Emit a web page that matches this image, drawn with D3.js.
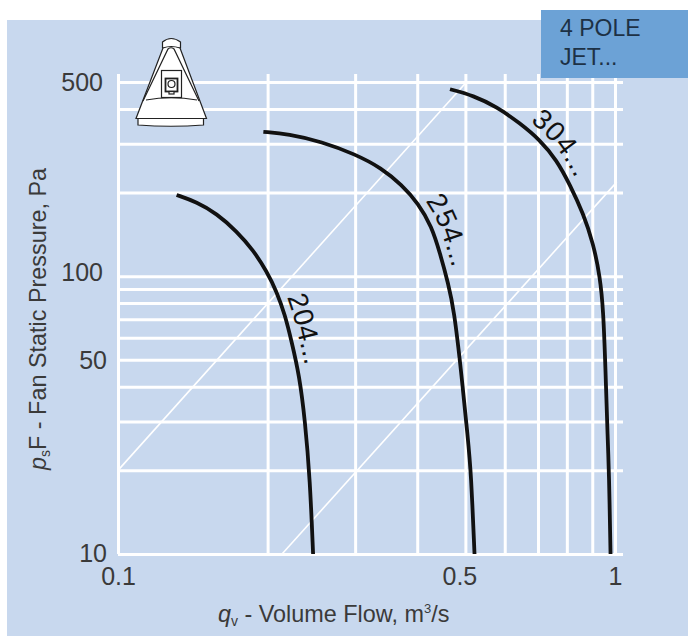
<!DOCTYPE html>
<html>
<head>
<meta charset="utf-8">
<script src="https://cdn.jsdelivr.net/npm/d3@7"></script>
<style>
  body { margin: 0; background: #fff; }
  text { font-family: "Liberation Sans", sans-serif; fill: #3a3a3a; }
</style>
</head>
<body>
<div id="chart"></div>
<script>
const flowTicks = [0.1, 0.2, 0.3, 0.4, 0.5, 0.6, 0.7, 0.8, 0.9, 1];
const pressureTicks = [10, 20, 30, 40, 50, 60, 70, 80, 90, 100, 200, 300, 400, 500];
const flowLabels = [0.1, 0.5, 1];
const pressureLabels = [10, 50, 100, 500];

const names = ["204...", "254...", "304..."];
const q204 = [0.1312, 0.144, 0.158, 0.1734, 0.1872, 0.1992, 0.2086, 0.2168, 0.2236, 0.2316, 0.2378, 0.2434, 0.2469];
const p204 = [196, 185, 168, 145, 124, 104, 88, 72.5, 58, 44, 30.4, 18.5, 10];
const q254 = [0.1961, 0.2201, 0.257, 0.2998, 0.3393, 0.3722, 0.4019, 0.4277, 0.4445, 0.4619, 0.4743, 0.49, 0.5062, 0.5132, 0.5216];
const p254 = [331, 325, 305, 275, 245, 213, 183, 151, 121, 94, 75.6, 46, 25.7, 19.7, 10];
const q304 = [0.4656, 0.5187, 0.5781, 0.6441, 0.7065, 0.7632, 0.812, 0.8634, 0.9044, 0.9329, 0.9473, 0.957, 0.9668, 0.9727, 0.9795];
const p304 = [471, 447, 407, 355, 309, 262, 213, 168, 131, 99.6, 75.6, 46, 25.7, 19.7, 10];

// thin white system lines
const sysQ = [[0.1, 0.5], [0.2138, 1.008]];
const sysP = [[20, 495], [10, 218]];

const curves = [
  {name: names[0], q: q204, p: p204, offset: 152},
  {name: names[1], q: q254, p: p254, offset: 177},
  {name: names[2], q: q304, p: p304, offset: 85}
];

const width = 688, height = 636;
const svg = d3.select("#chart").append("svg")
  .attr("width", width)
  .attr("height", height)
  .style("display", "block");

svg.append("rect").attr("x", 7).attr("y", 20).attr("width", 681).attr("height", 616).attr("fill", "#c8d8ee");

const x = d3.scaleLog().domain([0.1, 1]).range([118, 615]);
const y = d3.scaleLog().domain([10, 500]).range([554, 82]);

// grid
const gridX = svg.append("g").attr("transform", "translate(0,554)")
  .call(d3.axisBottom(x).tickValues(flowTicks).tickSize(-480).tickFormat(""));
const gridY = svg.append("g").attr("transform", "translate(118,0)")
  .call(d3.axisLeft(y).tickValues(pressureTicks).tickSize(-505).tickFormat(""));
[gridX, gridY].forEach(g => {
  g.select(".domain").remove();
  g.selectAll("line").attr("stroke", "#fff").attr("stroke-width", 3);
});

const sysLine = d3.line().x(d => x(d[0])).y(d => y(d[1]));
svg.selectAll(".sys").data(sysQ).enter().append("path")
  .attr("class", "sys")
  .attr("d", (d, i) => sysLine(d3.zip(d, sysP[i])))
  .attr("fill", "none")
  .attr("stroke", "#fff")
  .attr("stroke-width", 1.6);

// fan curves
const line = d3.line().x(d => x(d[0])).y(d => y(d[1])).curve(d3.curveBasis);
svg.selectAll(".curve").data(curves).enter().append("path")
  .attr("class", "curve")
  .attr("id", (d, i) => "curve" + i)
  .attr("d", d => line(d3.zip(d.q, d.p)))
  .attr("fill", "none")
  .attr("stroke", "#111")
  .attr("stroke-width", 3.8);

svg.selectAll(".curveLabel").data(curves).enter().append("text")
  .attr("class", "curveLabel")
  .attr("dy", -8)
  .style("font-size", "28px")
  .style("fill", "#111")
  .append("textPath")
  .attr("href", (d, i) => "#curve" + i)
  .attr("startOffset", d => d.offset)
  .text(d => d.name);

// tick labels
const labelX = svg.append("g").attr("transform", "translate(0,585)")
  .call(d3.axisBottom(x).tickValues(flowLabels).tickSize(0).tickPadding(0).tickFormat(d => d));
labelX.select(".domain").remove();
labelX.selectAll("text").attr("y", 0).attr("dy", 0)
  .attr("dx", d => d === 0.5 ? -6 : 0)
  .style("font-size", "25px").attr("font-family", null);

const labelY = svg.append("g").attr("transform", "translate(107,0)")
  .call(d3.axisLeft(y).tickValues(pressureLabels).tickSize(0).tickPadding(0).tickFormat(d => d));
labelY.select(".domain").remove();
labelY.selectAll("text").attr("x", d => d >= 100 ? -4 : 0)
  .attr("dy", d => d === 100 ? 4.5 : d === 10 ? 7 : 8.5)
  .style("font-size", "25px").attr("font-family", null);

// axis titles
const xTitle = svg.append("text").attr("x", 218).attr("y", 622).style("font-size", "23.4px");
xTitle.append("tspan").style("font-style", "italic").text("q");
xTitle.append("tspan").attr("dy", 4).style("font-size", "14px").text("v");
xTitle.append("tspan").attr("dy", -4).text(" - Volume Flow, m");
xTitle.append("tspan").attr("dy", -9).style("font-size", "13px").text("3");
xTitle.append("tspan").attr("dy", 9).text("/s");

const yTitle = svg.append("text").attr("transform", "translate(46,470) rotate(-90)").style("font-size", "23.4px");
yTitle.append("tspan").style("font-style", "italic").text("p");
yTitle.append("tspan").attr("dy", 4).style("font-size", "14px").text("s");
yTitle.append("tspan").attr("dy", -4).text("F - Fan Static Pressure, Pa");

// series box top right
svg.append("rect").attr("x", 541).attr("y", 10).attr("width", 147).attr("height", 68).attr("fill", "#6ca2d6");
svg.selectAll(".boxText").data(["4 POLE", "JET..."]).enter().append("text")
  .attr("class", "boxText")
  .attr("x", 560)
  .attr("y", (d, i) => 36 + i * 29)
  .style("font-size", "23px")
  .style("fill", "#1d3145")
  .text(d => d);

// fan icon
const icon = svg.append("g").attr("fill", "#fff").attr("stroke", "#222").attr("stroke-width", 1.2);
icon.append("path").attr("d", "M162.5 48 V42 Q171 35 180.5 42 V48 Z");
icon.append("path").attr("d", "M163 48 L136 118.5 H206.5 L180 48 Q171 45 163 48 Z");
icon.append("path").attr("d", "M138 118.5 V125 Q171 127.5 203.5 125 V118.5 Z");
icon.append("path").attr("fill", "none").attr("d", "M143 101 L168 49 Q171 46.5 174 49 L199 101");
icon.append("path").attr("fill", "none").attr("d", "M146 100 Q171 95.5 197 100");
icon.append("rect").attr("x", 161.5).attr("y", 70.5).attr("width", 20).attr("height", 27);
icon.append("rect").attr("x", 165.5).attr("y", 78.5).attr("width", 12).attr("height", 13).attr("stroke-width", 1.8);
icon.append("circle").attr("cx", 171.5).attr("cy", 84).attr("r", 3.5);
icon.append("rect").attr("x", 169).attr("y", 91.5).attr("width", 5).attr("height", 2.5);
</script>
</body>
</html>
